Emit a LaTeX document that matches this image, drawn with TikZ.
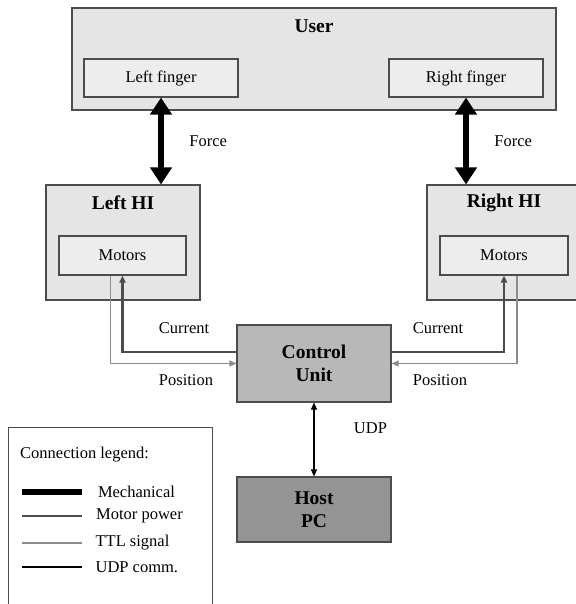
\documentclass[tikz,border=0pt]{standalone}
\usepackage{fontspec}
\setmainfont{Liberation Serif}
\usetikzlibrary{arrows.meta,positioning}
\definecolor{edgegray}{gray}{0.3}
\definecolor{boxgray}{gray}{0.9}
\definecolor{ingray}{gray}{0.93}
\definecolor{cugray}{gray}{0.72}
\definecolor{pcgray}{gray}{0.58}
\definecolor{powergray}{gray}{0.3}
\definecolor{ttlgray}{gray}{0.55}
\begin{document}
\begin{tikzpicture}[x=1pt,y=-1pt,
  font=\fontsize{16.5}{19}\selectfont,
  box/.style={draw=edgegray,line width=1.1pt,fill=boxgray,inner sep=0pt},
  inbox/.style={draw=edgegray,line width=1.1pt,fill=ingray,inner sep=0pt,
    minimum height=39pt},
  title/.style={font=\fontsize{19.5}{23}\selectfont\bfseries,align=center},
  mechline/.style={draw=black,line width=6pt},
  mech/.style={mechline,
    {Triangle[length=17pt,width=21pt]}-{Triangle[length=17pt,width=21pt]}},
  power/.style={draw=powergray,line width=2.4pt},
  ttl/.style={draw=ttlgray,line width=1.2pt},
  udp/.style={draw=black,line width=1.2pt},
  tip/.style={-{Triangle[length=7pt,width=6pt]}}]
\useasboundingbox (0,0) rectangle (575,604);
% user and fingers
\node[box,minimum width=484pt,minimum height=102pt] (user) at (314,59) {};
\node[title] (usertitle) at ([yshift=-19pt]user.north) {User};
\node[inbox,minimum width=154pt,minimum height=38pt] (lfinger) at (161,78) {Left finger};
\node[inbox,minimum width=154pt,minimum height=38pt] (rfinger) at (466,78) {Right finger};
% haptic interfaces
\node[box,minimum width=154pt,minimum height=115pt] (lhi) at (123,242.5) {};
\node[title] (lhititle) at ([yshift=-18pt]lhi.north) {Left HI};
\node[inbox,minimum width=127pt] (lmot) at (122.5,255.5) {Motors};
\node[box,minimum width=154pt,minimum height=115pt] (rhi) at (504,242.5) {};
\node[title] (rhititle) at ([yshift=-18pt]rhi.north) {Right HI};
\node[inbox,minimum width=128pt] (rmot) at (504,255.5) {Motors};
% control unit and host
\node[box,fill=cugray,minimum width=154pt,minimum height=77pt,title] (cu) at (314,363.5) {Control\\Unit};
\node[box,fill=pcgray,minimum width=154pt,minimum height=65pt,title] (pc) at (314,509.5) {Host\\PC};
% mechanical links
\draw[mech] (lfinger.south) -- node[right=22pt] {Force} (lfinger.south |- lhi.north);
\draw[mech] (rfinger.south) -- node[right=22pt] {Force} (rfinger.south |- rhi.north);
% motor power and position signals
\draw[power,tip] ([yshift=11.5pt]cu.west) -| (lmot.south);
\draw[ttl,tip] ([xshift=-12pt]lmot.south) |- (cu.west);
\draw[power,tip] ([yshift=11.5pt]cu.east) -| (rmot.south);
\draw[ttl,tip] ([xshift=13pt]rmot.south) |- (cu.east);
\node (lcur) at (184,328) {Current};
\node (lpos) at (186,380) {Position};
\node (rcur) at (438,328) {Current};
\node (rpos) at (440,380) {Position};
% udp
\draw[udp,{Triangle[length=7pt,width=6pt]}-{Triangle[length=7pt,width=6pt]}]
  (cu.south) -- node[pos=0.35,right=36pt] {UDP} (pc.north);
% legend
\node[draw=edgegray,line width=1.1pt,fill=white,minimum width=204pt,
  minimum height=185pt,anchor=north west] (legend) at (8,427) {};
\node[anchor=west,inner sep=0pt] (legtitle) at (20,455) {Connection legend:};
\foreach \sty/\txt/\yy in {mechline/Mechanical/492,power/Motor power/516,
  ttl/TTL signal/543,udp/UDP comm./567}
  \draw[\sty] (22,\yy) -- (82,\yy) node[right=13pt,inner sep=0pt] {\txt};
\end{tikzpicture}
\end{document}
